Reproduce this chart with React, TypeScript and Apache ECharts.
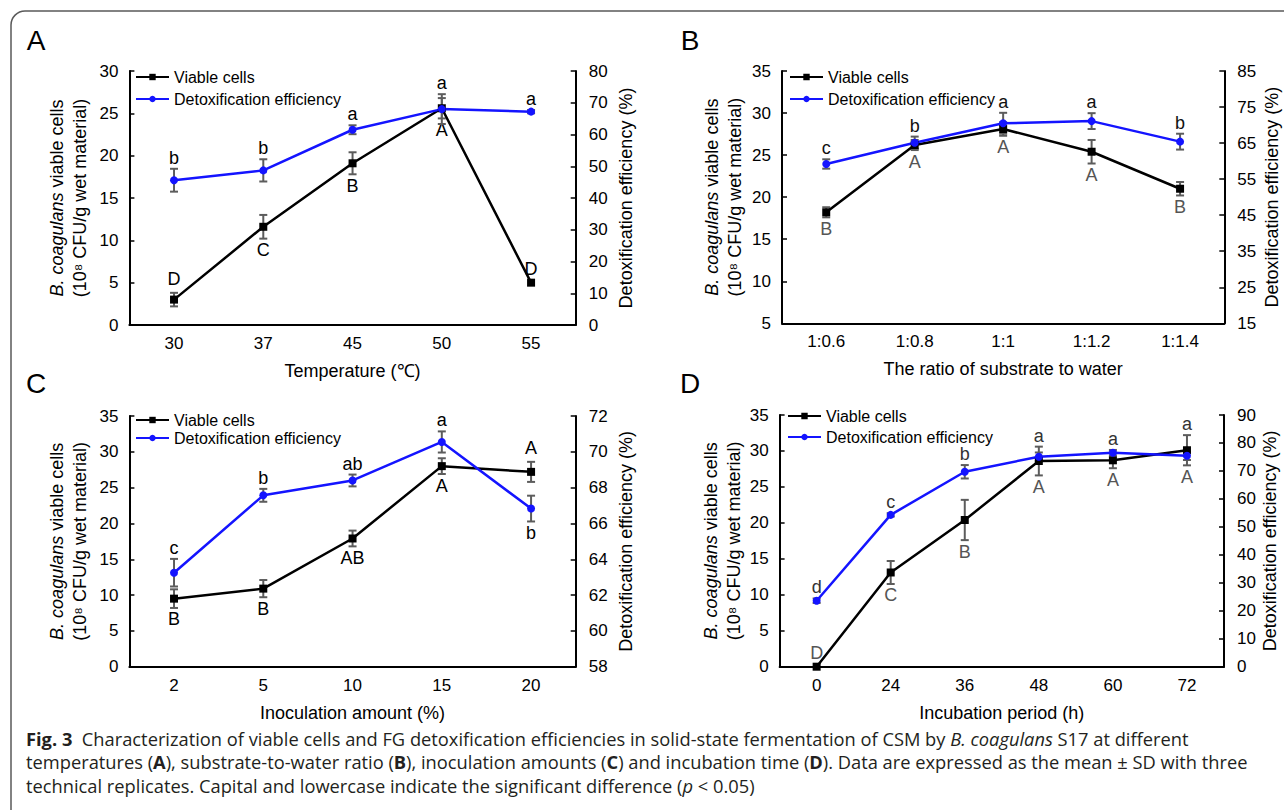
import React, { useEffect, useRef } from "react";
import * as echarts from "echarts";

const FONT = "'Liberation Sans', Arial, Helvetica, sans-serif";
const CAP_FONT = "'Open Sans', Lato, sans-serif";
const BLUE = "#1414ff";
const ERR = "#5c5c5c";

// Panel A: temperature
const catsA = ["30", "37", "45", "50", "55"];
const viableA = [3.0, 11.6, 19.1, 25.6, 5.0];
const viableErrA = [0.8, 1.4, 1.3, 1.2, 0];
const detoxA = [45.6, 48.7, 61.5, 68.0, 67.2];
const detoxErrA = [3.6, 3.5, 1.4, 4.7, 0.5];
const upperA = ["D", "C", "B", "A", "D"];
const upperPosA = ["above", "below", "below", "below", "above"];
const lowerA = ["b", "b", "a", "a", "a"];
const lowerPosA = ["above", "above", "above", "above", "above"];

// Panel B: substrate-to-water ratio
const catsB = ["1:0.6", "1:0.8", "1:1", "1:1.2", "1:1.4"];
const viableB = [18.2, 26.2, 28.1, 25.4, 21.0];
const viableErrB = [0.6, 0.6, 0.8, 1.4, 0.8];
const detoxB = [59.2, 65.1, 70.5, 71.1, 65.4];
const detoxErrB = [1.3, 1.7, 2.9, 2.2, 2.2];
const upperB = ["B", "A", "A", "A", "B"];
const upperPosB = ["below", "below", "below", "below", "below"];
const lowerB = ["c", "b", "a", "a", "b"];
const lowerPosB = ["above", "above", "above", "above", "above"];

// Panel C: inoculation amount
const catsC = ["2", "5", "10", "15", "20"];
const viableC = [9.5, 10.9, 17.9, 28.0, 27.2];
const viableErrC = [1.3, 1.2, 1.1, 1.1, 1.4];
const detoxC = [63.25, 67.57, 68.4, 70.55, 66.83];
const detoxErrC = [0.77, 0.36, 0.33, 0.59, 0.72];
const upperC = ["B", "B", "AB", "A", "A"];
const upperPosC = ["below", "below", "below", "below", "above"];
const lowerC = ["c", "b", "ab", "a", "b"];
const lowerPosC = ["above", "above", "above", "above", "below"];

// Panel D: incubation period
const catsD = ["0", "24", "36", "48", "60", "72"];
const viableD = [0, 13.1, 20.4, 28.6, 28.7, 30.1];
const viableErrD = [0, 1.6, 2.8, 2.0, 1.1, 2.1];
const detoxD = [23.6, 54.3, 69.7, 75.1, 76.5, 75.4];
const detoxErrD = [0.8, 0.6, 2.4, 1.5, 1.0, 1.5];
const upperD = ["D", "C", "B", "A", "A", "A"];
const upperPosD = ["above", "below", "below", "below", "below", "below"];
const lowerD = ["d", "c", "b", "a", "a", "a"];
const lowerPosD = ["above", "above", "above", "above", "above", "above"];

const panels = [
  {
    letter: "A", letterPos: [36, 40],
    cats: catsA, viable: viableA, viableErr: viableErrA, detox: detoxA, detoxErr: detoxErrA,
    upper: upperA, upperPos: upperPosA, lower: lowerA, lowerPos: lowerPosA,
    upperColor: "#000", lowerColor: "#000",
    xName: "Temperature (℃)",
    left: [0, 30, 5], right: [0, 80, 10],
    grid: { left: 129.4, top: 71, width: 446.3, height: 254 },
    legend: { left: 135, top: 69, gap: 6 },
    leftGap: 38, rightGap: 41,
  },
  {
    letter: "B", letterPos: [690, 40],
    cats: catsB, viable: viableB, viableErr: viableErrB, detox: detoxB, detoxErr: detoxErrB,
    upper: upperB, upperPos: upperPosB, lower: lowerB, lowerPos: lowerPosB,
    upperColor: "#555", lowerColor: "#111",
    xName: "The ratio of substrate to water",
    left: [5, 35, 5], right: [15, 85, 10],
    grid: { left: 782, top: 71, width: 442.3, height: 252.3 },
    legend: { left: 789, top: 69, gap: 6 },
    leftGap: 36, rightGap: 39,
  },
  {
    letter: "C", letterPos: [36, 383],
    cats: catsC, viable: viableC, viableErr: viableErrC, detox: detoxC, detoxErr: detoxErrC,
    upper: upperC, upperPos: upperPosC, lower: lowerC, lowerPos: lowerPosC,
    upperColor: "#000", lowerColor: "#000",
    xName: "Inoculation amount (%)",
    left: [0, 35, 5], right: [58, 72, 2],
    grid: { left: 129.4, top: 416, width: 446.3, height: 250.7 },
    legend: { left: 135, top: 412, gap: 2 },
    leftGap: 38, rightGap: 41,
  },
  {
    letter: "D", letterPos: [690, 383],
    cats: catsD, viable: viableD, viableErr: viableErrD, detox: detoxD, detoxErr: detoxErrD,
    upper: upperD, upperPos: upperPosD, lower: lowerD, lowerPos: lowerPosD,
    upperColor: "#555", lowerColor: "#333",
    xName: "Incubation period (h)",
    left: [0, 35, 5], right: [0, 90, 10],
    grid: { left: 779.6, top: 415, width: 444.4, height: 251.7 },
    legend: { left: 787, top: 408, gap: 5 },
    leftGap: 34, rightGap: 37,
  },
];

const holder: { chart: any } = { chart: null };

function errRender(
  letters: string[],
  pos: string[],
  color: string,
  aboveDy: number,
  other?: { axis: number; values: number[]; errs: number[] }
) {
  return (params: any, api: any) => {
    const idx = params.dataIndex;
    const i = api.value(0);
    const v = api.value(1);
    const e = api.value(2);
    const c = api.coord([i, v]);
    const t = api.coord([i, v + e]);
    const b = api.coord([i, v - e]);
    const children: any[] = [];
    if (e > 0) {
      const st = { stroke: ERR, lineWidth: 2 };
      children.push({ type: "line", shape: { x1: c[0], y1: t[1], x2: c[0], y2: b[1] }, style: st });
      children.push({ type: "line", shape: { x1: c[0] - 4, y1: t[1], x2: c[0] + 4, y2: t[1] }, style: st });
      children.push({ type: "line", shape: { x1: c[0] - 4, y1: b[1], x2: c[0] + 4, y2: b[1] }, style: st });
    }
    const L = letters[idx];
    if (L) {
      const above = pos[idx] === "above";
      let topY = t[1];
      if (above && other && holder.chart) {
        try {
          const oy = holder.chart.convertToPixel(
            { yAxisIndex: other.axis },
            other.values[idx] + other.errs[idx]
          );
          if (typeof oy === "number" && isFinite(oy)) topY = Math.min(topY, oy);
        } catch (err) {
          /* keep own */
        }
      }
      children.push({
        type: "text",
        style: {
          text: L,
          x: c[0],
          y: above ? topY + aboveDy - 1 : b[1] + 4,
          align: "center",
          verticalAlign: above ? "bottom" : "top",
          fontSize: 18,
          lineHeight: 15,
          fontFamily: FONT,
          fill: color,
        },
      });
    }
    return { type: "group", children };
  };
}

const axisLineStyle = { color: "#000", width: 2 };

function buildOption() {
  const grid: any[] = [];
  const xAxis: any[] = [];
  const yAxis: any[] = [];
  const series: any[] = [];
  const legend: any[] = [];
  const graphic: any[] = [];

  panels.forEach((p, k) => {
    grid.push({ ...p.grid, containLabel: false, outerBoundsMode: "none" });
    xAxis.push({
      type: "category",
      gridIndex: k,
      data: p.cats,
      boundaryGap: true,
      axisLine: { lineStyle: axisLineStyle },
      axisTick: { inside: true, alignWithLabel: true, length: 5, lineStyle: { color: "#000", width: 1.5 } },
      axisLabel: { color: "#000", fontSize: 17, fontFamily: FONT, margin: 10 },
      splitLine: { show: false },
      name: p.xName,
      nameLocation: "middle",
      nameGap: 37,
      nameTextStyle: { color: "#000", fontSize: 18, fontFamily: FONT },
    });
    const yBase = {
      type: "value",
      gridIndex: k,
      axisLine: { show: true, lineStyle: axisLineStyle },
      axisTick: { show: true, inside: true, length: 5, lineStyle: { color: "#000", width: 1.5 } },
      splitLine: { show: false },
      nameLocation: "middle",
      nameRotate: 90,
    };
    yAxis.push({
      ...yBase,
      position: "left",
      min: p.left[0],
      max: p.left[1],
      interval: p.left[2],
      axisLabel: { color: "#000", fontSize: 17, fontFamily: FONT, margin: 11 },
      name: "{i|B. coagulans} viable cells\n(10⁸ CFU/g wet material)",
      nameGap: p.leftGap,
      nameTextStyle: {
        color: "#000", fontSize: 18, fontFamily: FONT, lineHeight: 23,
        rich: { i: { fontStyle: "italic", fontSize: 18, fontFamily: FONT, color: "#000", lineHeight: 23 } },
      },
    });
    yAxis.push({
      ...yBase,
      position: "right",
      min: p.right[0],
      max: p.right[1],
      interval: p.right[2],
      axisLabel: { color: "#000", fontSize: 17, fontFamily: FONT, margin: 13 },
      name: "Detoxification efficiency (%)",
      nameGap: p.rightGap,
      nameTextStyle: { color: "#000", fontSize: 18, fontFamily: FONT },
    });
    const yl = 2 * k;
    const yr = 2 * k + 1;
    series.push({
      type: "custom",
      name: "errV" + k,
      xAxisIndex: k,
      yAxisIndex: yl,
      z: 1,
      clip: false,
      encode: { x: 0, y: 1 },
      data: p.viable.map((v, i) => [i, v, p.viableErr[i]]),
      renderItem: errRender(p.upper, p.upperPos, p.upperColor, -5),
    });
    series.push({
      type: "custom",
      name: "errD" + k,
      xAxisIndex: k,
      yAxisIndex: yr,
      z: 1,
      clip: false,
      encode: { x: 0, y: 1 },
      data: p.detox.map((v, i) => [i, v, p.detoxErr[i]]),
      renderItem: errRender(p.lower, p.lowerPos, p.lowerColor, -2.5, {
        axis: yl,
        values: p.viable,
        errs: p.viableErr,
      }),
    });
    series.push({
      type: "line",
      name: "Viable cells",
      xAxisIndex: k,
      yAxisIndex: yl,
      data: p.viable,
      z: 3,
      symbol: "rect",
      symbolSize: 8,
      itemStyle: { color: "#000" },
      lineStyle: { color: "#000", width: 2.5 },
    });
    series.push({
      type: "line",
      name: "Detoxification efficiency",
      xAxisIndex: k,
      yAxisIndex: yr,
      data: p.detox,
      z: 3,
      symbol: "circle",
      symbolSize: 8,
      itemStyle: { color: BLUE },
      lineStyle: { color: BLUE, width: 2.5 },
    });
    legend.push({
      left: p.legend.left,
      top: p.legend.top,
      orient: "vertical",
      itemWidth: 33,
      itemHeight: 8,
      itemGap: p.legend.gap,
      padding: 0,
      selectedMode: false,
      textStyle: { color: "#000", fontSize: 16, lineHeight: 14, fontFamily: FONT },
      data: ["Viable cells", "Detoxification efficiency"],
    });
    graphic.push({
      type: "text",
      x: p.letterPos[0],
      y: p.letterPos[1],
      style: { text: p.letter, fontSize: 28, fontFamily: FONT, fill: "#000", align: "center", verticalAlign: "middle" },
    });
  });

  graphic.push({
    type: "rect",
    shape: { x: 11, y: 11, width: 1320, height: 840, r: 14 },
    style: { fill: "none", stroke: "#5a5a5a", lineWidth: 1.5 },
    silent: true,
  });

  const capSize = 18.3;
  const capStyle = {
    fontSize: capSize,
    lineHeight: 20,
    fontFamily: CAP_FONT,
    fill: "#231f20",
    align: "left",
    verticalAlign: "middle",
    rich: {
      b: { fontWeight: "bold", fontSize: capSize, lineHeight: 20, fontFamily: CAP_FONT, fill: "#231f20" },
      i: { fontStyle: "italic", fontSize: capSize, lineHeight: 20, fontFamily: CAP_FONT, fill: "#231f20" },
    },
  };
  const capLines = [
    "{b|Fig. 3}  Characterization of viable cells and FG detoxification efficiencies in solid-state fermentation of CSM by {i|B. coagulans} S17 at different",
    "temperatures ({b|A}), substrate-to-water ratio ({b|B}), inoculation amounts ({b|C}) and incubation time ({b|D}). Data are expressed as the mean ± SD with three",
    "technical replicates. Capital and lowercase indicate the significant difference ({i|p} < 0.05)",
  ];
  const capY = [738, 761.5, 785];
  capLines.forEach((t, i) => {
    graphic.push({ type: "text", x: 26, y: capY[i], style: { ...capStyle, text: t } });
  });

  return {
    animation: false,
    backgroundColor: "#fff",
    grid,
    xAxis,
    yAxis,
    series,
    legend,
    graphic,
  };
}

export default function App() {
  const ref = useRef<HTMLDivElement>(null);
  useEffect(() => {
    if (!ref.current) return;
    const chart = echarts.init(ref.current, undefined, { renderer: "svg" });
    holder.chart = chart;
    chart.setOption(buildOption() as any);
    // second pass so that letters can use the axes that now exist
    chart.setOption(buildOption() as any, true);
    return () => {
      holder.chart = null;
      chart.dispose();
    };
  }, []);
  return (
    <div
      ref={ref}
      style={{ position: "absolute", left: 0, top: 0, width: 1284, height: 810, background: "#fff" }}
    />
  );
}
